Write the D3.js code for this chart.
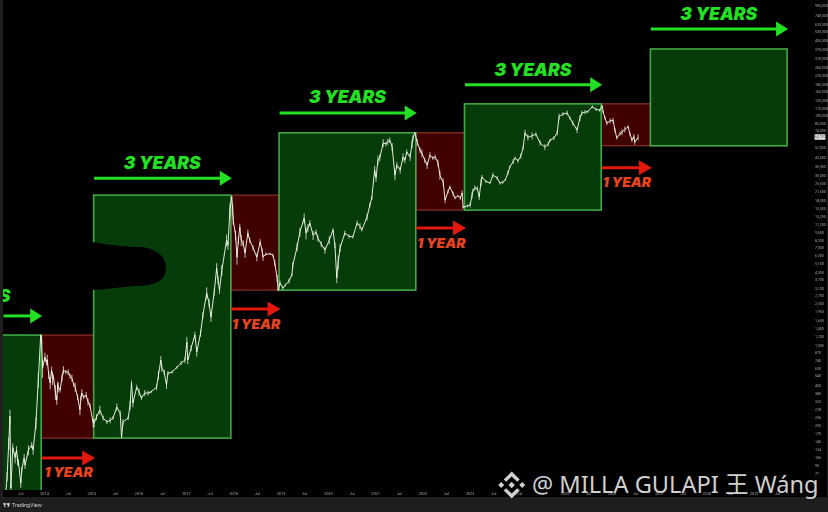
<!DOCTYPE html>
<html><head><meta charset="utf-8">
<script src="https://cdn.jsdelivr.net/npm/d3@7/dist/d3.min.js"></script>
<style>html,body{margin:0;padding:0;background:#000}svg{display:block}</style></head>
<body><svg id="c" width="828" height="512"></svg>
<script>
const priceDates=[2013.00,2013.10,2013.17,2013.22,2013.255,2013.28,2013.30,2013.34,2013.39,2013.42,2013.44,2013.46,2013.51,2013.53,2013.58,2013.60,2013.67,2013.74,2013.77,2013.83,2013.88,2013.93,
2013.95,2013.97,2014.02,2014.05,2014.07,2014.10,2014.13,2014.16,2014.18,2014.20,2014.24,2014.27,2014.29,2014.30,2014.34,2014.38,2014.41,2014.46,2014.51,2014.55,2014.59,2014.63,2014.66,2014.71,2014.76,2014.78,2014.80,2014.84,2014.89,2014.93,2014.97,2015.04,
2015.06,2015.11,2015.18,2015.25,2015.33,2015.40,2015.46,2015.54,2015.61,2015.64,2015.67,2015.78,2015.82,2015.85,2015.88,2015.96,2016.01,2016.06,2016.13,2016.20,2016.26,2016.38,2016.42,2016.47,2016.49,2016.54,2016.59,2016.62,2016.71,2016.81,2016.90,2016.98,2017.02,2017.04,2017.11,2017.19,2017.23,2017.31,2017.36,2017.44,2017.49,2017.53,2017.60,2017.65,2017.68,2017.71,2017.76,2017.86,2017.89,2017.93,2017.97,
2017.99,2018.00,2018.05,2018.08,2018.11,2018.14,2018.17,2018.21,2018.25,2018.31,2018.35,2018.42,2018.50,2018.57,2018.61,2018.63,2018.69,2018.78,2018.84,2018.88,2018.93,2018.95,2018.99,2019.05,2019.10,2019.18,2019.24,2019.26,2019.35,2019.41,2019.50,2019.54,2019.58,2019.62,2019.69,2019.75,2019.79,2019.86,2019.94,2020.03,2020.11,2020.15,2020.19,2020.22,2020.26,2020.36,2020.45,2020.53,2020.62,2020.68,2020.72,2020.83,2020.89,2020.93,2020.99,2021.02,2021.06,2021.10,2021.17,2021.23,2021.27,2021.31,2021.36,2021.42,2021.46,2021.53,2021.59,2021.63,2021.67,2021.74,2021.78,2021.80,2021.84,
2021.89,2021.95,2021.99,2022.05,2022.10,2022.16,2022.22,2022.27,2022.33,2022.37,2022.44,2022.48,2022.54,2022.58,2022.65,2022.69,2022.75,2022.80,2022.84,2022.86,2022.88,2022.95,2023.01,2023.05,2023.07,2023.11,2023.16,2023.20,2023.24,2023.26,2023.34,2023.43,2023.49,2023.58,2023.64,2023.70,2023.75,2023.81,2023.85,2023.92,2023.96,2024.02,2024.08,2024.13,2024.17,2024.23,2024.32,2024.40,2024.49,2024.59,2024.66,2024.70,2024.78,2024.85,2024.89,2024.97,2025.06,2025.12,2025.18,2025.27,2025.33,2025.37,2025.44,2025.50,2025.59,2025.67,2025.75,2025.80,2025.82,2025.86,2025.90,2025.97,2026.03,2026.07,2026.11,2026.18,2026.22,2026.28,2026.35,2026.39,2026.43,2026.47,2026.49,2026.56];
const priceValues=[14,22,40,72,140,240,57,128,105,122,100,95,63,82,104,90,122,135,122,210,497,1220,
1100,630,786,710,740,550,467,606,516,527,390,332,450,430,406,516,606,582,582,537,516,450,430,353,272,346,382,353,368,320,300,210,
210,236,272,232,214,222,232,289,256,158,214,232,300,467,313,430,390,346,382,382,390,430,548,740,630,582,450,570,582,640,697,740,1060,740,940,1220,870,1270,1820,2830,2320,1750,2900,4680,3666,3000,4477,8150,7377,14900,19400,
15000,12200,9000,5800,8150,10600,8150,7700,6300,9400,8150,7000,5800,7850,6676,5800,6170,6200,6041,5150,3800,3000,3460,3130,3318,3600,4052,4950,7100,9600,12700,9400,10400,11500,9000,9600,8500,7550,6676,8150,10000,7377,3830,5270,7000,9400,8800,8700,11500,10800,10000,13000,16500,19000,33200,28500,40500,42500,57000,56000,58500,60400,52700,30000,36600,33200,43000,40500,47700,43000,56000,63000,70000,
58000,49500,46500,40500,36600,44800,42300,43000,38300,30000,26000,18200,21500,23700,20600,19000,19800,19000,21000,15800,15800,16200,16500,20100,22200,23200,23000,19400,26000,28900,26500,25600,30000,28400,25600,26000,27100,31500,35400,39500,42300,40000,43800,52000,70000,64000,66000,68000,57000,52700,56000,60400,63000,70000,97000,102000,104000,94000,85000,74000,94000,104000,106000,107000,118000,112000,110000,120000,107000,94000,85000,89000,90000,74000,63000,69000,71000,75000,79000,68000,60400,65000,58000,64000];
// approximate half-range of the candle at each point, in percent
const wickSpreads=[4,6,8,9,12,14,10,9,11,8,10,7,9,6,8,7,10,6,9,12,14,1,
8,18,9,6,11,8,12,7,13,5,15,9,6,10,5,7,8,4,6,5,7,4,9,6,10,5,8,4,6,7,5,9,
8,6,9,5,4,6,4,7,5,2,6,4,9,5,8,5,7,4,6,5,3,6,9,8,7,5,8,4,3,3,4,6,11,8,6,7,9,7,6,12,8,9,7,10,8,7,11,12,9,14,2,
12,9,10,14,8,7,11,6,9,7,6,5,8,6,4,7,3,2,3,6,7,2,5,4,3,5,3,6,8,9,10,12,8,6,9,5,7,6,7,8,4,6,10,14,8,5,4,3,5,6,3,7,5,4,9,8,9,7,8,5,6,5,8,10,6,7,8,6,5,7,8,6,2,
7,6,8,5,7,6,4,5,7,9,8,6,4,3,5,3,2,4,5,3,2,3,5,6,3,5,4,6,7,4,3,2,5,4,3,3,2,4,3,5,3,4,5,4,6,6,7,4,5,6,5,3,4,5,6,4,5,3,5,6,6,5,4,3,3,3,3,2,3,3,4,5,5,4,3,4,6,6,3,3,4,5,5,6,4,2];

const zoneKinds=["up","down","up","down","up","down","up","down","up"];
const zoneStarts=[2010,2013.94,2015.05,2017.95,2018.97,2021.86,2022.89,2025.78,2026.82];
const zoneEnds=[2013.94,2015.05,2017.95,2018.97,2021.86,2022.89,2025.78,2026.82,2029.71];
const zoneTops=[1220,1220,20100,20100,70000,70000,125000,125000,375000];
const zoneBottoms=[10,155,155,3000,3000,14900,14900,54000,54000];

const arrowPrices=[1790,104,28200,2060,104000,10400,183000,34700,560000];
const labelPrices=[2620,76,37000,1500,141000,7550,240000,25500,730000];
const labelTexts=["3 YEARS","1 YEAR"];

const priceTicks=[900000,740000,620000,530000,450000,370000,310000,260000,220000,185000,160000,135000,115000,100000,85000,74000,52000,43000,36000,30000,25500,21500,18000,15500,13200,11200,9600,8200,7000,6000,5100,4300,3700,3100,2700,2300,1950,1650,1400,1200,1000,870,740,630,540,450,380,325,278,236,200,170,146,124,106,90,77];
const timeTicks=[2013.5,2014,2014.5,2015,2015.5,2016,2016.5,2017,2017.5,2018,2018.5,2019,2019.5,2020,2020.5,2021,2021.5,2022,2022.5,2023,2023.5,2024,2024.5,2025,2025.5,2026,2026.5,2027,2027.5,2028,2028.5,2029,2029.5];
const lastPrice=64700;

const svg=d3.select("#c");
const x=d3.scaleLinear().domain([2014,2030]).range([44,800.8]);
const y=d3.scaleLog().domain([1e6,10]).range([0,575]);
const plot={l:3,r:827,b:490};

svg.append("rect").attr("width",828).attr("height",512).attr("fill","#1e1e1e");
svg.append("rect").attr("x",plot.l).attr("width",plot.r-plot.l).attr("height",497).attr("fill","#000");

const defs=svg.append("defs");
defs.append("clipPath").attr("id","pc").append("rect").attr("x",plot.l).attr("y",0).attr("width",802).attr("height",plot.b);
const soft=defs.append("filter").attr("id","soft").attr("x","-5%").attr("y","-5%").attr("width","110%").attr("height","110%");
soft.append("feGaussianBlur").attr("stdDeviation",0.35);

const g=svg.append("g").attr("clip-path","url(#pc)");

// zones
const zones=zoneKinds.map((k,i)=>({k,a:zoneStarts[i],b:zoneEnds[i],t:zoneTops[i],d:zoneBottoms[i]}));
g.append("g").selectAll("rect").data(zones.filter(z=>z.k==="down")).join("rect")
 .attr("x",z=>x(z.a)).attr("width",z=>x(z.b)-x(z.a))
 .attr("y",z=>y(z.t)).attr("height",z=>y(z.d)-y(z.t))
 .attr("fill","#400000").attr("stroke","#a33a30").attr("stroke-width",1);
g.append("g").selectAll("rect").data(zones.filter(z=>z.k==="up")).join("rect")
 .attr("x",z=>x(z.a)).attr("width",z=>x(z.b)-x(z.a))
 .attr("y",z=>y(z.t)).attr("height",z=>y(z.d)-y(z.t))
 .attr("fill","#053c0a").attr("stroke","#3fa844").attr("stroke-width",1.6);

// finger-shaped censor blot
svg.append("path").attr("d","M20,262 C24,246 50,246 70,242 C88,238 100,246 140,247 C158,248 166,258 166,268 C166,280 156,285 140,286 C110,287 96,293 70,288 C45,284 20,282 20,262Z").attr("fill","#000");

// price
const pts=priceDates.map((d,i)=>({d,v:priceValues[i],s:(wickSpreads[i]??4)/100}));
const line=d3.line().x(p=>x(p.d)).y(p=>y(p.v));
const pg=g.append("g").attr("filter","url(#soft)");
pg.append("g").selectAll("line").data(pts).join("line")
 .attr("x1",p=>x(p.d)).attr("x2",p=>x(p.d))
 .attr("y1",p=>y(p.v*(1+p.s))).attr("y2",p=>y(p.v*(1-p.s)))
 .attr("stroke","#eef3e6").attr("stroke-width",.9).attr("stroke-opacity",.85);
pg.append("path").datum(pts).attr("d",line).attr("fill","none").attr("stroke","#eef3e6").attr("stroke-width",.95).attr("stroke-linejoin","round");

// arrows and labels
const green="#22e022", red="#e2170e", orange="#e8431f";
zones.forEach((z,i)=>{
  const up=z.k==="up", c=up?green:red;
  const x0=Math.max(x(z.a),plot.l)+.5, x1=x(z.b)+(up?1:1.5), ya=y(arrowPrices[i]);
  const a=g.append("g");
  a.append("line").attr("x1",x0).attr("x2",x1-8).attr("y1",ya).attr("y2",ya).attr("stroke",c).attr("stroke-width",3);
  const hl=up?12:13, hh=7.5;
  const h=d3.path(); h.moveTo(x1,ya); h.lineTo(x1-hl,ya-hh); h.lineTo(x1-hl,ya+hh); h.closePath();
  a.append("path").attr("d",h.toString()).attr("fill",c);
  g.append("text").attr("x",up?(i===0?-28:(x(z.a)+x(z.b))/2):(x(z.a)+x(z.b))/2+1).attr("y",y(labelPrices[i]))
   .attr("text-anchor","middle").attr("dominant-baseline","middle")
   .attr("font-family","Inter, Roboto, sans-serif").attr("font-weight",900).attr("font-style","italic")
   .attr("font-size",up?17.5:13.8).attr("fill",up?green:orange).text(up?labelTexts[0]:labelTexts[1]);
});

// axes
const ay=svg.append("g").attr("transform","translate(813,0)").attr("filter","url(#soft)")
 .call(d3.axisRight(y).tickValues(priceTicks).tickSize(0).tickPadding(2).tickFormat(d3.format(",")));
ay.select(".domain").remove();
ay.selectAll("text").attr("font-family","Roboto, sans-serif").attr("font-size",3.6).attr("fill","#a8a8a8");
const ax=svg.append("g").attr("transform","translate(0,491)").attr("filter","url(#soft)")
 .call(d3.axisBottom(x).tickValues(timeTicks).tickSize(0).tickPadding(1).tickFormat(d=>Number.isInteger(d)?String(d):"Jul"));
ax.select(".domain").remove();
ax.selectAll("text").attr("font-family","Roboto, sans-serif").attr("font-size",3.8).attr("fill","#a8a8a8");

// last price tag
const yl=y(lastPrice);
svg.append("rect").attr("x",814.5).attr("y",yl-2.5).attr("width",11).attr("height",5.5).attr("rx",.8).attr("fill","#e8e8e8");
svg.append("text").attr("x",820).attr("y",yl+1.3).attr("text-anchor","middle").attr("font-family","Roboto, sans-serif").attr("font-size",3.6).attr("fill","#444").text(d3.format(",")(lastPrice));

// footer: TradingView mark and name
svg.append("path").attr("d","M3,503.2h3.4v1.2h-1.1v2.6h-1.1v-2.6h-1.2Z M7,503.2h3.2l-1.6,3.8h-1.2l0.8,-2h-1.2Z").attr("fill","#d8d8d8");
svg.append("text").attr("x",12).attr("y",506.8).attr("font-family","Roboto, sans-serif").attr("font-size",5.4).attr("fill","#cfcfcf").attr("filter","url(#soft)").text("TradingView");

// watermark
const wm=svg.append("g").attr("fill","#cfcfcf");
const cx=511.7, cy=485, diamond=(dx,dy,r)=>`M${cx+dx},${cy+dy-r}L${cx+dx+r},${cy+dy}L${cx+dx},${cy+dy+r}L${cx+dx-r},${cy+dy}Z`;
wm.append("path").attr("d",[diamond(0,0,3.2),diamond(-10.5,0,3),diamond(10.5,0,3),
 `M${cx},${cy-13.5}L${cx+8},${cy-5.5}L${cx+5.5},${cy-3.2}L${cx},${cy-8.6}L${cx-5.5},${cy-3.2}L${cx-8},${cy-5.5}Z`,
 `M${cx},${cy+13.5}L${cx+8},${cy+5.5}L${cx+5.5},${cy+3.2}L${cx},${cy+8.6}L${cx-5.5},${cy+3.2}L${cx-8},${cy+5.5}Z`].join(""));
wm.append("text").attr("x",532).attr("y",493).attr("font-family","'Noto Sans','Noto Sans CJK SC',sans-serif").attr("font-size",23.6).text("@ MILLA GULAPI 王 Wáng");
</script></body></html>
